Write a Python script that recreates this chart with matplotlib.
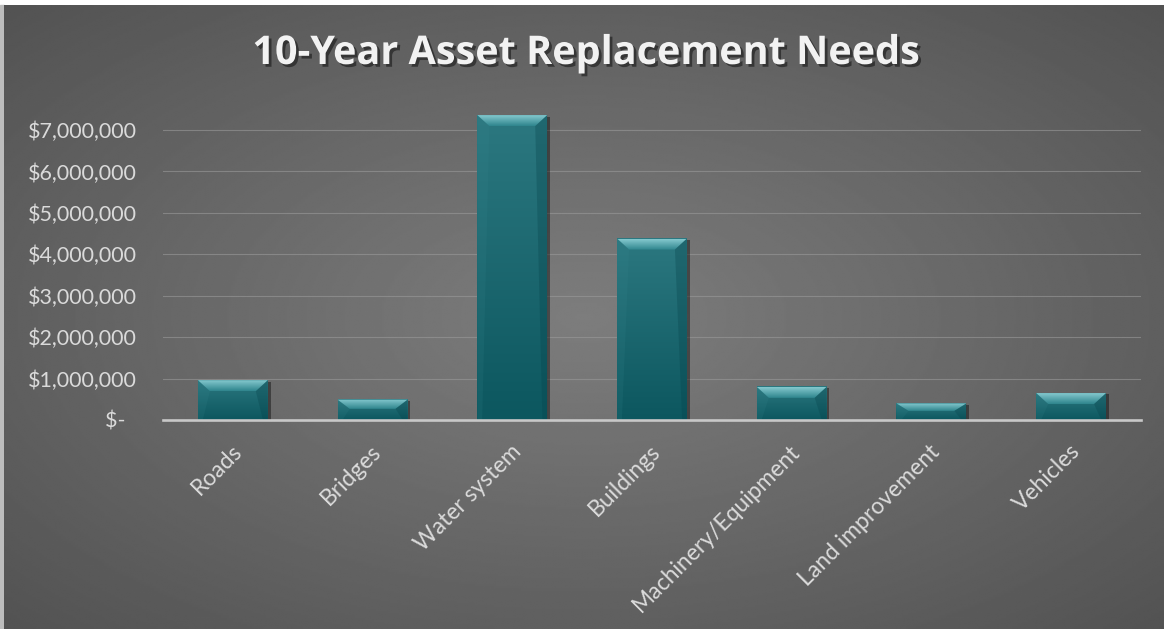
import numpy as np
import matplotlib

matplotlib.use("Agg")
import matplotlib.pyplot as plt
import matplotlib.patheffects as pe
from matplotlib.patches import Polygon, Rectangle
from matplotlib.colors import LinearSegmentedColormap
from matplotlib.ticker import FuncFormatter
from matplotlib.transforms import ScaledTranslation

categories = ["Roads", "Bridges", "Water system", "Buildings",
              "Machinery/Equipment", "Land improvement", "Vehicles"]
needs = [960_000, 490_000, 7_360_000, 4_380_000, 800_000, 400_000, 650_000]
yticks = [0, 1_000_000, 2_000_000, 3_000_000, 4_000_000,
          5_000_000, 6_000_000, 7_000_000]

plt.rcParams["font.family"] = ["Lato", "DejaVu Sans"]

W, H = 1164, 629
fig = plt.figure(figsize=(W / 100, H / 100), dpi=100, facecolor="white")

# light strip at the left edge
fig.add_artist(Rectangle((0, 0), 4 / W, 1 - 5 / H, transform=fig.transFigure,
                         color="#bdbdbd", zorder=0))

# dark grey backdrop, lighter towards the middle
bg = fig.add_axes([4 / W, 0, 1 - 4 / W, 1 - 5 / H])
yy, xx = np.mgrid[0:1:300j, 0:1:600j]
r = np.hypot((xx - 0.5) / 0.5, (yy - 0.5) / 0.5)
shade = 125 - 30 * r
bg.imshow(shade, cmap="gray", vmin=0, vmax=255, extent=(0, 1, 0, 1),
          aspect="auto", origin="lower", interpolation="bilinear")
bg.axis("off")

ax = fig.add_axes([163 / W, 1 - 420 / H, 978 / W, 314 / H])
ax.set_facecolor("none")
ymax = 7_580_000
x = np.arange(len(categories))
bw = 0.5

bars = ax.bar(x, needs, width=bw, color="#13636b", zorder=3,
              path_effects=[pe.SimplePatchShadow(offset=(2, -1), shadow_rgbFace="black", alpha=0.4),
                            pe.Normal()])

body = LinearSegmentedColormap.from_list("body", ["#0c575f", "#2c7880"])
bevel = LinearSegmentedColormap.from_list("bevel", ["#2f858d", "#84c8ce"])
# pixel -> data scale for the bevel
dpx = 7 / 978
dpy = ymax / 314
bev_h, bev_w = 11 * dpy, 12 * dpx
for b in bars:
    x0, x1, v = b.get_x(), b.get_x() + b.get_width(), b.get_height()
    ax.imshow(np.linspace(0, 1, 128).reshape(-1, 1), cmap=body,
              extent=(x0, x1, 0, v), origin="lower", aspect="auto", zorder=3.1)
    h = min(bev_h, v * 0.45)
    top = Polygon([(x0, v), (x1, v), (x1 - bev_w, v - h), (x0 + bev_w, v - h)],
                  closed=True, facecolor="none", edgecolor="none", zorder=3.2)
    ax.add_patch(top)
    im = ax.imshow(np.linspace(0, 1, 64).reshape(-1, 1), cmap=bevel,
                   extent=(x0, x1, v - h, v), origin="lower", aspect="auto", zorder=3.2)
    im.set_clip_path(top)
    ax.add_patch(Polygon([(x1, v), (x1 - bev_w, v - h), (x1 - bev_w * 0.4, 0), (x1, 0)],
                         closed=True, facecolor="#06424a", edgecolor="none", alpha=0.3, zorder=3.3))
    ax.add_patch(Polygon([(x0, v), (x0 + bev_w, v - h), (x0 + bev_w * 0.4, 0), (x0, 0)],
                         closed=True, facecolor="#3b8a92", edgecolor="none", alpha=0.15, zorder=3.3))

ax.set_xlim(-0.5, len(categories) - 0.5)
ax.set_ylim(0, ymax)
ax.set_aspect("auto")

ax.set_yticks(yticks)
ax.yaxis.set_major_formatter(FuncFormatter(lambda v, _: "$-  " if v == 0 else f"${v:,.0f}"))
ax.tick_params(axis="y", length=0, pad=19, labelsize=15.5, labelcolor="#dadada")
ax.grid(axis="y", color="#9a9a9a", lw=0.8, alpha=0.6, zorder=1)

ax.set_xticks(x)
ax.set_xticklabels(categories, rotation=45, ha="right", rotation_mode="anchor")
ax.tick_params(axis="x", length=0, pad=15, labelsize=16.5, labelcolor="#dadada")
shift = ScaledTranslation(-2 / 100, 0, fig.dpi_scale_trans)
for lab in ax.get_xticklabels():
    lab.set_transform(lab.get_transform() + shift)

for s in ["top", "right", "left"]:
    ax.spines[s].set_visible(False)
ax.spines["bottom"].set_color("#c8c8c8")
ax.spines["bottom"].set_linewidth(1.9)
ax.spines["bottom"].set_zorder(4)

fig.text(586 / W, 1 - 64 / H, "10-Year Asset Replacement Needs", ha="center", va="baseline",
         fontsize=28.5, fontweight="bold", color="#f2f2f2", family=["Open Sans", "DejaVu Sans"],
         path_effects=[pe.withSimplePatchShadow(offset=(2, -2), shadow_rgbFace="black", alpha=0.45)])

fig.savefig("out.png", dpi=100, facecolor=fig.get_facecolor())
